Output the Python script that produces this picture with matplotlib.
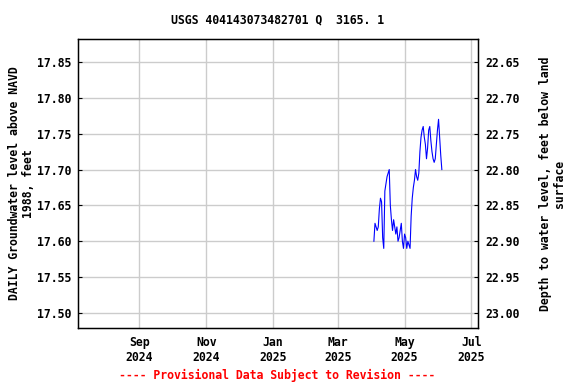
import matplotlib
matplotlib.use("Agg")
import matplotlib.pyplot as plt
import matplotlib.dates as mdates
import numpy as np
import pandas as pd

title = "USGS 404143073482701 Q  3165. 1"
start_date = "2025-04-03"
levels = [17.600, 17.625, 17.620, 17.615, 17.620, 17.645, 17.660, 17.655, 17.605, 17.590,
          17.670, 17.680, 17.690, 17.695, 17.700, 17.650, 17.630, 17.615, 17.630, 17.620,
          17.610, 17.620, 17.600, 17.605, 17.615, 17.625, 17.600, 17.590, 17.610, 17.605,
          17.590, 17.600, 17.595, 17.590, 17.635, 17.660, 17.675, 17.685, 17.700, 17.690,
          17.685, 17.695, 17.725, 17.745, 17.755, 17.760, 17.745, 17.735, 17.715, 17.730,
          17.755, 17.760, 17.740, 17.725, 17.715, 17.710, 17.715, 17.735, 17.755, 17.770,
          17.745, 17.720, 17.700]
dates = pd.date_range(start_date, periods=len(levels), freq="D")
datum_offset = 40.5  # depth = offset - elevation

left_ticks = [17.50, 17.55, 17.60, 17.65, 17.70, 17.75, 17.80, 17.85]
right_ticks = [22.65, 22.70, 22.75, 22.80, 22.85, 22.90, 22.95, 23.00]
xtick_dates = ["2024-09-01", "2024-11-01", "2025-01-01", "2025-03-01", "2025-05-01", "2025-07-01"]
xtick_labels = ["Sep\n2024", "Nov\n2024", "Jan\n2025", "Mar\n2025", "May\n2025", "Jul\n2025"]

font = "DejaVu Sans Mono"
fs = 8.3

fig = plt.figure(figsize=(5.76, 3.84), dpi=100)
ax = fig.add_axes([78/576, 56/384, 400/576, 289/384])
ax.plot(dates, levels, color="#0000ff", lw=0.8)

ax.set_xlim(pd.Timestamp("2024-07-07"), pd.Timestamp("2025-07-07"))
ylo, yhi = 17.479, 17.882
ax.set_ylim(ylo, yhi)
ax.set_yticks(left_ticks)
ax.set_yticklabels([f"{v:.2f}" for v in left_ticks], fontfamily=font, fontweight="bold", fontsize=fs)
ax.set_xticks(pd.to_datetime(xtick_dates))
ax.set_xticklabels(xtick_labels, fontfamily=font, fontweight="bold", fontsize=fs)
ax.grid(True, color="#cccccc", lw=1.0)
ax.set_axisbelow(True)
ax.tick_params(axis="both", length=3, direction="in", pad=5)
ax.tick_params(axis="x", length=0, pad=6)
for s in ax.spines.values():
    s.set_linewidth(1.0)

ax.set_ylabel("DAILY Groundwater level above NAVD\n1988, feet", fontfamily=font,
              fontweight="bold", fontsize=fs, linespacing=1.1, labelpad=1)

ax2 = ax.twinx()
ax2.set_ylim(datum_offset - ylo, datum_offset - yhi)
ax2.set_yticks(right_ticks)
ax2.set_yticklabels([f"{v:.2f}" for v in right_ticks], fontfamily=font, fontweight="bold", fontsize=fs)
ax2.tick_params(axis="y", length=3, direction="in", pad=5)
ax2.set_ylabel("Depth to water level, feet below land\nsurface", fontfamily=font,
               fontweight="bold", fontsize=fs, linespacing=1.1, labelpad=14)

fig.text(278/576, 1 - 20/384, title, ha="center", va="center", fontfamily=font,
         fontweight="bold", fontsize=fs)
fig.text(277/576, 1 - 375/384, "---- Provisional Data Subject to Revision ----",
         ha="center", va="center", fontfamily=font, fontweight="bold", fontsize=fs, color="red")

fig.savefig("out.png", dpi=100)
